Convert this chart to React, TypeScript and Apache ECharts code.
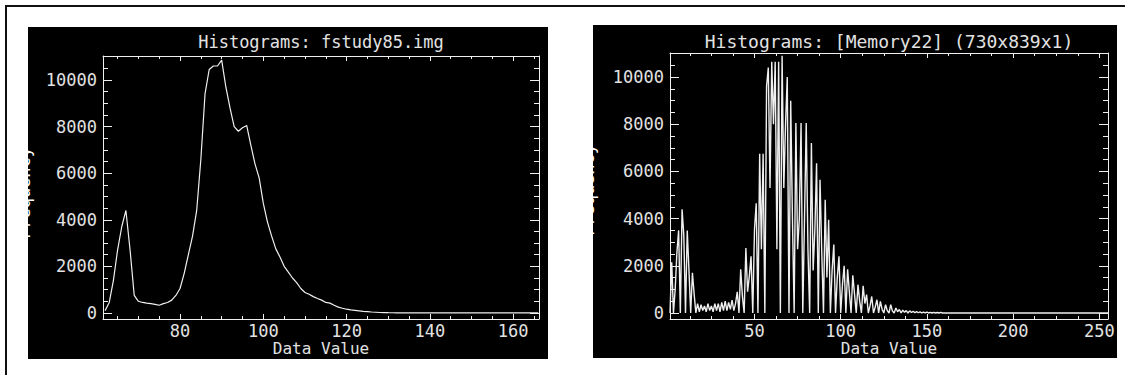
import React, { useEffect, useRef } from 'react';
import * as echarts from 'echarts';

const leftTitle = 'Histograms: fstudy85.img';
const rightTitle = 'Histograms: [Memory22] (730x839x1)';
const xName = 'Data Value';
const yName = 'Frequency';

// left histogram: bins 62 .. 166
const leftFirstBin = 62;
const leftCounts = [
  100, 450, 1400, 2700, 3700, 4400, 2700, 750, 500, 450,
  420, 400, 370, 330, 400, 450, 550, 750, 1050, 1700,
  2500, 3300, 4400, 6600, 9400, 10450, 10600, 10600, 10850, 9700,
  8800, 8000, 7800, 7950, 8050, 7200, 6400, 5800, 4700, 3900,
  3300, 2750, 2400, 2000, 1750, 1500, 1300, 1050, 880, 800,
  700, 620, 550, 450, 420, 330, 250, 200, 160, 130,
  110, 90, 70, 55, 40, 30, 20, 15, 10, 8,
  6, 5, 4, 3, 2, 2, 1, 0, 0, 0,
  0, 0, 0, 0, 0, 0, 0, 0, 0, 0,
  0, 0, 0, 0, 0, 0, 0, 0, 0, 0,
  0, 0, 0, 0, 0,
];

// right histogram: bins 1 .. 255
const rightFirstBin = 1;
const rightCounts = [
  0, 2150, 0, 1000, 2550, 3500, 0, 4400, 3300, 0,
  3500, 1800, 0, 1700, 800, 0, 400, 50, 350, 100,
  300, 50, 400, 100, 300, 50, 400, 100, 400, 50,
  450, 100, 500, 100, 450, 150, 550, 100, 400, 900,
  0, 1850, 700, 0, 2750, 900, 1550, 2400, 0, 3550,
  4650, 0, 6750, 2700, 6750, 0, 9600, 10400, 5300, 10650,
  8000, 10650, 2700, 10650, 0, 10900, 5300, 8000, 10000, 0,
  9000, 4000, 0, 8050, 2700, 4000, 8050, 0, 4000, 8050,
  2700, 0, 7200, 1800, 3500, 6350, 0, 5650, 2600, 0,
  4800, 1500, 3950, 0, 1800, 2900, 0, 1500, 2400, 0,
  1200, 2000, 0, 1850, 900, 0, 1600, 800, 0, 1200,
  500, 0, 1150, 400, 780, 0, 300, 700, 0, 250,
  560, 0, 490, 150, 0, 350, 100, 0, 350, 80,
  0, 210, 50, 150, 0, 120, 30, 100, 0, 90,
  20, 70, 10, 60, 10, 50, 0, 40, 0, 40,
  0, 30, 0, 30, 0, 20, 0, 30, 0, 0,
  0, 0, 0, 0, 0, 0, 0, 0, 0, 0, 0, 0, 0, 0, 0, 0,
  0, 0, 0, 0, 0, 0, 0, 0, 0, 0, 0, 0, 0, 0, 0, 0,
  0, 0, 0, 0, 0, 0, 0, 0, 0, 0, 0, 0, 0, 0, 0, 0,
  0, 0, 0, 0, 0, 0, 0, 0, 0, 0, 0, 0, 0, 0, 0, 0,
  0, 0, 0, 0, 0, 0, 0, 0, 0, 0, 0, 0, 0, 0, 0, 0,
  0, 0, 0, 0, 0, 0, 0, 0, 0, 0, 0, 0, 0, 0, 0,
];

const leftXMajor = [80, 100, 120, 140, 160];
const leftXMinor = [65, 70, 75, 85, 90, 95, 105, 110, 115, 125, 130, 135, 145, 150, 155, 165];
const rightXMajor = [50, 100, 150, 200, 250];
const rightXMinor = [12.5, 25, 37.5, 62.5, 75, 87.5, 112.5, 125, 137.5, 162.5, 175, 187.5, 212.5, 225, 237.5];
const yMajor = [0, 2000, 4000, 6000, 8000, 10000];
const yMinor = [500, 1000, 1500, 2500, 3000, 3500, 4500, 5000, 5500, 6500, 7000, 7500, 8500, 9000, 9500, 10500, 11000];

const LINE = '#efefef';
const TEXT = '#e2e2e2';
const FONT = '"DejaVu Sans Mono", monospace';
const plain = (v: number) => String(v);

function xAxesFor(grid: number, min: number, max: number, major: number[], minor: number[]) {
  const base = (position: string, showLine: boolean, len: number, ticks: number[], labeled: boolean) => ({
    type: 'value',
    gridIndex: grid,
    min,
    max,
    position,
    axisLine: { show: showLine, onZero: false, lineStyle: { color: LINE, width: 1 } },
    axisTick: { show: true, inside: true, length: len, customValues: ticks, lineStyle: { color: LINE, width: 1 } },
    axisLabel: {
      show: labeled,
      customValues: major,
      formatter: plain,
      color: TEXT,
      fontFamily: FONT,
      fontSize: 17,
      margin: 3,
    },
    splitLine: { show: false },
    minorTick: { show: false },
  });
  return [
    base('bottom', true, 5, major, true),
    base('bottom', false, 3, minor, false),
    base('top', true, 5, major, false),
    base('top', false, 3, minor, false),
  ];
}

function yAxesFor(grid: number, min: number, max: number) {
  const base = (position: string, showLine: boolean, len: number, ticks: number[], labeled: boolean) => ({
    type: 'value',
    gridIndex: grid,
    min,
    max,
    position,
    axisLine: { show: showLine, onZero: false, lineStyle: { color: LINE, width: 1 } },
    axisTick: { show: true, inside: true, length: len, customValues: ticks, lineStyle: { color: LINE, width: 1 } },
    axisLabel: {
      show: labeled,
      customValues: yMajor,
      formatter: plain,
      color: TEXT,
      fontFamily: FONT,
      fontSize: 17,
      margin: 6,
    },
    splitLine: { show: false },
    minorTick: { show: false },
  });
  return [
    base('left', true, 9, yMajor, true),
    base('left', false, 5, yMinor, false),
    base('right', true, 9, yMajor, false),
    base('right', false, 5, yMinor, false),
  ];
}

export default function App() {
  const ref = useRef<HTMLDivElement>(null);
  useEffect(() => {
    if (!ref.current) return;
    const chart = echarts.init(ref.current, undefined, { renderer: 'svg' });
    const leftData = leftCounts.map((v, i) => [leftFirstBin + i, v]);
    const rightData = rightCounts.map((v, i) => [rightFirstBin + i, v]);
    const textEl = (text: string, x: number, y: number, size: number, rotation = 0, fill = TEXT) => ({
      type: 'text',
      x,
      y,
      rotation,
      z: 10,
      silent: true,
      style: {
        text,
        fill,
        font: `${size}px ${FONT}`,
        align: 'center',
        textAlign: 'center',
        verticalAlign: 'middle',
        textVerticalAlign: 'middle',
      },
    });
    chart.setOption({
      animation: false,
      backgroundColor: '#ffffff',
      grid: [
        { left: 103, top: 56, width: 436, height: 263, containLabel: false, show: false },
        { left: 670, top: 53, width: 438, height: 266, containLabel: false, show: false },
      ],
      xAxis: [
        ...xAxesFor(0, 61.5, 166.2, leftXMajor, leftXMinor),
        ...xAxesFor(1, 1, 255, rightXMajor, rightXMinor),
      ],
      yAxis: [...yAxesFor(0, -260, 11030), ...yAxesFor(1, -255, 11020)],
      series: [
        {
          type: 'line',
          xAxisIndex: 0,
          yAxisIndex: 0,
          data: leftData,
          symbol: 'none',
          showSymbol: false,
          silent: true,
          lineStyle: { color: LINE, width: 1.2 },
        },
        {
          type: 'line',
          xAxisIndex: 4,
          yAxisIndex: 4,
          data: rightData,
          symbol: 'none',
          showSymbol: false,
          silent: true,
          lineStyle: { color: LINE, width: 1.4 },
        },
      ],
      graphic: [
        { type: 'rect', z: -10, silent: true, shape: { x: 28, y: 27, width: 520, height: 332 }, style: { fill: '#000000' } },
        { type: 'rect', z: -10, silent: true, shape: { x: 593, y: 25, width: 524, height: 333 }, style: { fill: '#000000' } },
        { type: 'line', z: 5, silent: true, shape: { x1: 5, y1: 6, x2: 1125, y2: 6 }, style: { stroke: '#111111', lineWidth: 2 } },
        { type: 'line', z: 5, silent: true, shape: { x1: 6, y1: 5, x2: 6, y2: 375 }, style: { stroke: '#111111', lineWidth: 2 } },
        textEl(leftTitle, 321, 42, 17),
        textEl(rightTitle, 889, 41, 18),
        textEl(xName, 321, 348, 16),
        textEl(xName, 889, 348, 16),
        textEl(yName, 24, 193, 17, Math.PI / 2, '#ffffff'),
        textEl(yName, 588, 190, 17, Math.PI / 2, '#ffffff'),
      ],
    });
    return () => chart.dispose();
  }, []);
  return <div ref={ref} style={{ position: 'absolute', left: 0, top: 0, width: 1125, height: 375 }} />;
}
